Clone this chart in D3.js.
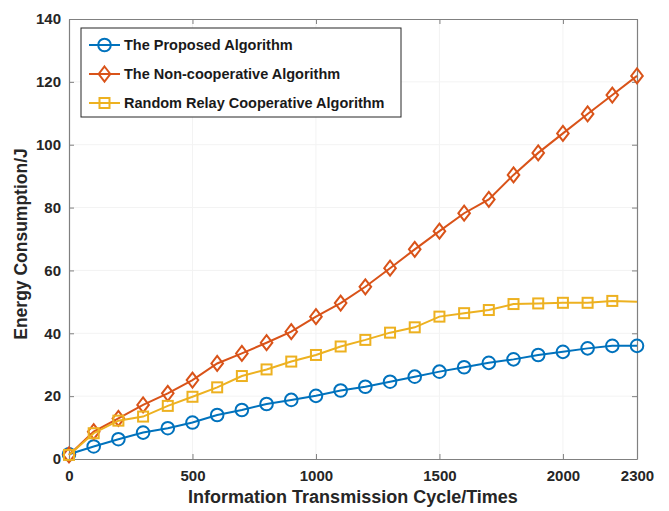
<!DOCTYPE html>
<html>
<head>
<meta charset="utf-8">
<script src="https://cdn.jsdelivr.net/npm/d3@7"></script>
<style>
  html, body { margin: 0; padding: 0; background: #fff; }
  svg { display: block; font-family: "Liberation Sans", Arial, Helvetica, sans-serif; }
</style>
</head>
<body>
<svg id="chart" width="669" height="511"></svg>
<script>
// ---- data ----
const cycles = [0, 100, 200, 300, 400, 500, 600, 700, 800, 900, 1000, 1100,
                1200, 1300, 1400, 1500, 1600, 1700, 1800, 1900, 2000, 2100, 2200, 2300];
const proposed = [1.5, 4.0, 6.3, 8.4, 9.8, 11.6, 14.0, 15.6, 17.5, 18.8, 20.1, 21.8,
                  23.0, 24.6, 26.2, 27.8, 29.2, 30.6, 31.7, 33.1, 34.1, 35.2, 36.0, 36.0];
const nonCooperative = [1.3, 8.7, 12.9, 17.2, 20.9, 25.1, 30.4, 33.6, 37.0, 40.5, 45.3, 49.6,
                        54.8, 60.7, 66.7, 72.5, 78.2, 82.6, 90.4, 97.4, 103.6, 109.8, 115.8, 121.9];
const randomRelay = [1.3, 8.2, 12.2, 13.5, 16.9, 19.8, 22.8, 26.4, 28.5, 31.0, 33.1, 35.8,
                     37.9, 40.2, 41.9, 45.3, 46.4, 47.4, 49.3, 49.5, 49.7, 49.7, 50.3, 50.0];
const seriesNames = ["The Proposed Algorithm", "The Non-cooperative Algorithm", "Random Relay Cooperative Algorithm"];
const xTicks = [0, 500, 1000, 1500, 2000, 2300];
const yTicks = [0, 20, 40, 60, 80, 100, 120, 140];
const xLabel = "Information Transmission Cycle/Times";
const yLabel = "Energy Consumption/J";

// ---- layout ----
const svg = d3.select("#chart");
const W = 669, H = 511;
const m = { left: 69, right: 32, top: 19, bottom: 52 };
const iw = W - m.left - m.right, ih = H - m.top - m.bottom;
const x = d3.scaleLinear().domain([0, 2300]).range([0, iw]);
const y = d3.scaleLinear().domain([0, 140]).range([ih, 0]);

svg.append("rect").attr("width", W).attr("height", H).attr("fill", "#fff");
const g = svg.append("g").attr("transform", `translate(${m.left},${m.top})`);

// faint grid
g.append("g").selectAll("line").data(xTicks.slice(1, -1)).join("line")
  .attr("x1", d => x(d)).attr("x2", d => x(d)).attr("y1", 0).attr("y2", ih)
  .attr("stroke", "#f3f3f3").attr("stroke-width", 1);
g.append("g").selectAll("line").data(yTicks.slice(1, -1)).join("line")
  .attr("y1", d => y(d)).attr("y2", d => y(d)).attr("x1", 0).attr("x2", iw)
  .attr("stroke", "#f3f3f3").attr("stroke-width", 1);

// axes (MATLAB style: inward ticks, box)
const axisColor = "#808080";
const tickLen = 5;
const fmt = d3.format("d");
const xAxis = g.append("g").attr("transform", `translate(0,${ih})`)
  .call(d3.axisBottom(x).tickValues(xTicks).tickFormat(fmt).tickSizeInner(-tickLen).tickSizeOuter(0).tickPadding(11));
const xAxisTop = g.append("g")
  .call(d3.axisTop(x).tickValues(xTicks).tickFormat("").tickSizeInner(-tickLen).tickSizeOuter(0));
const yAxis = g.append("g")
  .call(d3.axisLeft(y).tickValues(yTicks).tickFormat(fmt).tickSizeInner(-tickLen).tickSizeOuter(0).tickPadding(8));
const yAxisRight = g.append("g").attr("transform", `translate(${iw},0)`)
  .call(d3.axisRight(y).tickValues(yTicks).tickFormat("").tickSizeInner(-tickLen).tickSizeOuter(0));
[xAxis, xAxisTop, yAxis, yAxisRight].forEach(a => {
  a.select(".domain").attr("stroke", axisColor).attr("stroke-width", 1.2);
  a.selectAll(".tick line").attr("stroke", axisColor).attr("stroke-width", 1);
  a.selectAll(".tick text").attr("fill", "#262626").attr("font-size", 15).attr("font-weight", "bold")
    .attr("font-family", "'Liberation Sans', Arial, sans-serif");
});

// axis labels
svg.append("text").attr("x", m.left + iw / 2).attr("y", 503).attr("text-anchor", "middle")
  .attr("font-size", 18).attr("font-weight", "bold").attr("fill", "#262626").text(xLabel);
svg.append("text").attr("transform", `translate(27,244) rotate(-90)`)
  .attr("text-anchor", "middle").attr("font-size", 17.5).attr("font-weight", "bold").attr("fill", "#262626").text(yLabel);

// markers
const colors = ["#0072BD", "#D95319", "#EDB120"];
function drawMarker(sel, type, color) {
  if (type === "circle") {
    sel.append("circle").attr("r", 6.3).attr("fill", "none").attr("stroke", color).attr("stroke-width", 2);
  } else if (type === "diamond") {
    sel.append("path").attr("d", "M0,-7.5L5.8,0L0,7.5L-5.8,0Z").attr("fill", "none").attr("stroke", color).attr("stroke-width", 2);
  } else {
    sel.append("rect").attr("x", -5).attr("y", -5).attr("width", 10).attr("height", 10)
      .attr("fill", "none").attr("stroke", color).attr("stroke-width", 2);
  }
}
const series = [
  { name: seriesNames[0], values: proposed, color: colors[0], marker: "circle", markerCount: 24 },
  { name: seriesNames[1], values: nonCooperative, color: colors[1], marker: "diamond", markerCount: 24 },
  { name: seriesNames[2], values: randomRelay, color: colors[2], marker: "square", markerCount: 23 }
];
const line = d3.line().x(d => x(d[0])).y(d => y(d[1]));
series.forEach(s => {
  const pts = cycles.map((c, i) => [c, s.values[i]]);
  g.append("path").datum(pts).attr("d", line).attr("fill", "none")
    .attr("stroke", s.color).attr("stroke-width", 2);
  g.append("g").selectAll("g").data(pts.slice(0, s.markerCount)).join("g")
    .attr("transform", d => `translate(${x(d[0])},${y(d[1])})`)
    .each(function () { drawMarker(d3.select(this), s.marker, s.color); });
});

// legend
const lg = svg.append("g").attr("transform", "translate(81,28)");
lg.append("rect").attr("width", 320).attr("height", 89).attr("fill", "#fff")
  .attr("stroke", "#262626").attr("stroke-width", 1);
series.forEach((s, i) => {
  const yy = 17 + i * 29;
  lg.append("line").attr("x1", 8).attr("x2", 39).attr("y1", yy).attr("y2", yy)
    .attr("stroke", s.color).attr("stroke-width", 2);
  const mk = lg.append("g").attr("transform", `translate(23.5,${yy})`);
  drawMarker(mk, s.marker, s.color);
  lg.append("text").attr("x", 43).attr("y", yy).attr("dy", "0.36em")
    .attr("font-size", 14.5).attr("font-weight", "bold").attr("fill", "#1a1a1a").text(s.name);
});
</script>
</body>
</html>
